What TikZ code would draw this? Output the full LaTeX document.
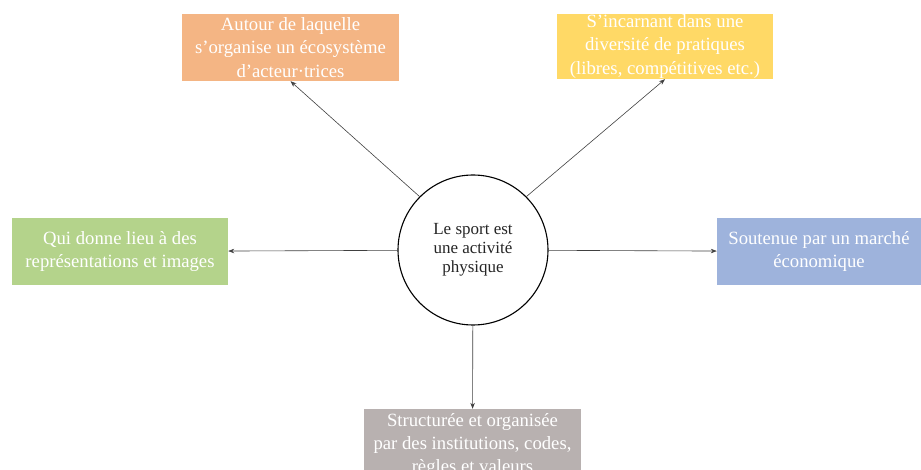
\documentclass[tikz,border=0pt]{standalone}
\usepackage{fontspec}
\setmainfont{Liberation Serif}
\usetikzlibrary{arrows.meta}
\definecolor{orangeb}{HTML}{F4B584}
\definecolor{yellowb}{HTML}{FFD966}
\definecolor{greenb}{HTML}{B4D38B}
\definecolor{blueb}{HTML}{9EB3DC}
\definecolor{grayb}{HTML}{B8B1B0}
\tikzset{
  box/.style={rectangle, inner sep=0pt, text=white, align=center,
    font=\fontsize{18.7}{23.3}\selectfont},
  center/.style={circle, draw=black, line width=1.1pt, fill=white,
    minimum size=150pt, inner sep=0pt, align=center,
    font=\fontsize{17}{18.8}\selectfont, text=black!85},
  link/.style={draw=black!75, line width=0.6pt, -{Stealth[length=6pt,width=4.5pt]}}
}
\begin{document}
\begin{tikzpicture}[x=1pt,y=-1pt]
\useasboundingbox (0,0) rectangle (921,470);
\clip (0,0) rectangle (921,470);
\node[box, fill=orangeb, minimum width=217pt, minimum height=67pt] (tl) at (290.5,47.5)
  {Autour de laquelle\\ s’organise un écosystème\\ d’acteur·trices};
\node[box, fill=yellowb, minimum width=216pt, minimum height=65pt] (tr) at (665,46.5)
  {S’incarnant dans une\\ diversité de pratiques\\ (libres, compétitives etc.)};
\node[box, fill=greenb, minimum width=216pt, minimum height=67pt] (l) at (120,251.5)
  {Qui donne lieu à des\\ représentations et images};
\node[box, fill=blueb, minimum width=204pt, minimum height=67pt] (r) at (819,251.5)
  {Soutenue par un marché\\ économique};
\node[box, fill=grayb, minimum width=217pt, minimum height=72pt] (b) at (472.5,445)
  {Structurée et organisée\\ par des institutions, codes,\\ règles et valeurs};
\node[center] (c) at (473,250) {Le sport est\\ une activité\\ physique};
\draw[link] (c.135) -- (tl.south);
\draw[link] (c.45) -- (tr.south);
\draw[link] (c) -- (l);
\draw[link] (c) -- (r);
\draw[link] (c) -- (b);
\end{tikzpicture}
\end{document}
